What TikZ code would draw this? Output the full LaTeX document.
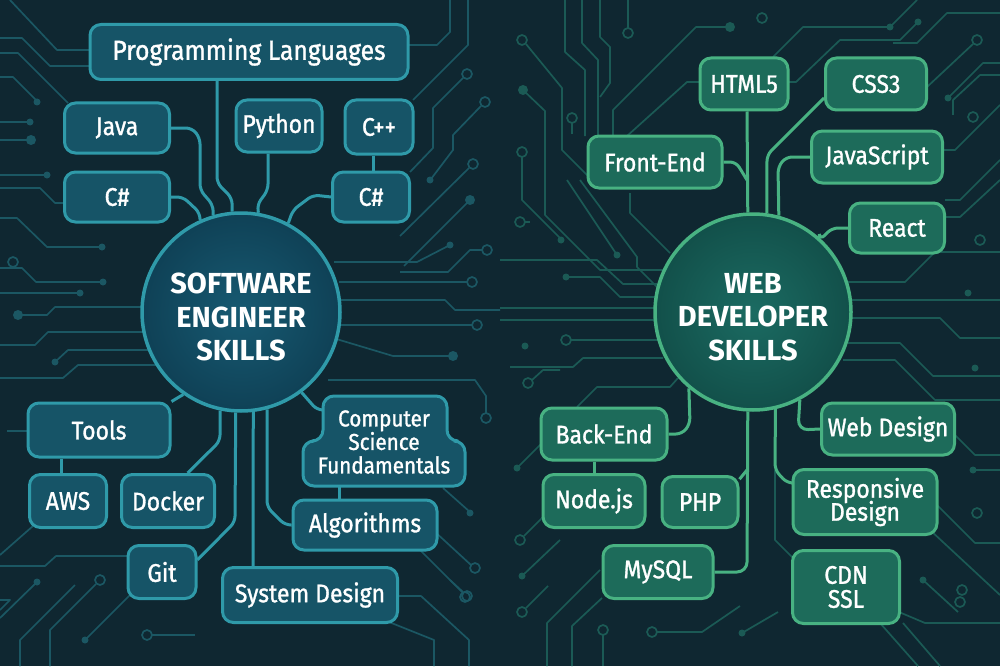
\documentclass[tikz,border=0pt]{standalone}
\usepackage{fontspec}
\setmainfont{Fira Sans}
\newfontfamily\boxfam{Fira Sans}[FakeStretch=0.9, FakeBold=1.2]
\definecolor{bg}{HTML}{0F2731}
\definecolor{ltrc}{HTML}{1B5763}
\definecolor{rtrc}{HTML}{1B5A55}
\definecolor{lborder}{HTML}{2F9AA9}
\definecolor{lfill}{HTML}{165467}
\definecolor{lhubin}{HTML}{175A72}
\definecolor{lhubout}{HTML}{0F4156}
\definecolor{rborder}{HTML}{48B282}
\definecolor{rfill}{HTML}{1D6B5A}
\definecolor{rhubin}{HTML}{1B6B62}
\definecolor{rhubout}{HTML}{12504A}
\newcommand{\boxfont}{\boxfam\fontsize{25.5}{28}\selectfont}
\newcommand{\plfont}{\boxfam\fontsize{27.5}{30}\selectfont}
\newcommand{\csffont}{\boxfam\fontsize{23}{23.5}\selectfont}
\newcommand{\hubfont}{\fontsize{29}{33.5}\selectfont\bfseries}
\pgfdeclarelayer{traces}
\pgfdeclarelayer{links}
\pgfsetlayers{traces,links,main}
\begin{document}
\begin{tikzpicture}[x=1pt,y=-1pt,
  ltr/.style={draw=ltrc, line width=1.7pt, line join=round},
  rtr/.style={draw=rtrc, line width=1.7pt, line join=round},
  lbox/.style={draw=lborder, fill=lfill, line width=3pt, rounded corners=11pt, text=white, font=\boxfont, inner sep=0pt, align=center},
  rbox/.style={draw=rborder, fill=rfill, line width=3pt, rounded corners=11pt, text=white, font=\boxfont, inner sep=0pt, align=center},
  lhub/.style={circle, draw=lborder, inner color=lhubin, outer color=lhubout, line width=3.5pt, minimum size=198pt, inner sep=0pt},
  rhub/.style={circle, draw=rborder, inner color=rhubin, outer color=rhubout, line width=3.5pt, minimum size=196pt, inner sep=0pt},
  hubtext/.style={text=white, font=\hubfont, align=center, inner sep=0pt},
  lwire/.style={draw=lborder, line width=3pt, rounded corners=6pt},
  rwire/.style={draw=rborder, line width=3pt, rounded corners=6pt}]
\useasboundingbox (0,0) rectangle (1000,666);
% ---------------- background circuit traces ----------------
\begin{pgfonlayer}{traces}
\fill[bg] (0,0) rectangle (1000,666);
% left edge
\draw[ltr] (10,0) -- (57,50) -- (90,50);
\draw[ltr] (0,38) -- (22,38) -- (50,66) -- (90,66);
\draw[ltr] (0,53) -- (18,53) -- (68,103);
\draw[ltr] (0,77) -- (13,77) -- (37,101);
\fill[ltrc] (37,102) circle (3.5pt);
\draw[ltr] (0,122) -- (30,122); \fill[ltrc] (30,122) circle (3.5pt);
\draw[ltr] (0,140) -- (30,140); \fill[ltrc] (31,140) circle (5pt);
\draw[ltr] (0,175) -- (47,175); \fill[ltrc] (47,175) circle (3.5pt);
\draw[ltr] (0,188) -- (40,188) -- (55,203) -- (65,203);
\draw[ltr] (0,218) -- (17,218) -- (47,247) -- (101,247); \fill[ltrc] (102,247) circle (3.5pt);
\draw[ltr] (13,262) circle (5pt);
\draw[ltr] (0,268) -- (22,268) -- (36,282) -- (103,282); \fill[ltrc] (103,282) circle (3.5pt);
\draw[ltr] (0,293) -- (80,293); \fill[ltrc] (80,293) circle (3.5pt);
\fill[ltrc] (18,315) circle (5pt);
\draw[ltr] (18,315) -- (47,315) -- (55,307) -- (145,307);
\draw[ltr] (0,345) -- (35,345) -- (48,332) -- (146,332);
\fill[ltrc] (55,362) circle (3.5pt);
\draw[ltr] (55,362) -- (68,350) -- (152,350);
\draw[ltr] (0,378) -- (63,378) -- (78,365) -- (160,365);
\draw[ltr] (7,431) -- (28,431);
\draw[ltr] (0,555) -- (33,526);
\draw[ltr] (0,566) -- (45,566) -- (56,556) -- (128,556);
\fill[ltrc] (37,582) circle (3.5pt); \draw[ltr] (37,582) -- (0,618);
\fill[ltrc] (85,640) circle (3.5pt); \draw[ltr] (85,640) -- (130,595);
\draw[ltr] (100,580) circle (5pt); \draw[ltr] (96,584) -- (50,630) -- (50,666);
\draw[ltr] (20,666) -- (20,640) -- (75,585);
\draw[ltr] (147,635) circle (5pt); \draw[ltr] (152,635) -- (195,635);
\draw[ltr] (0,600) -- (10,600) -- (0,610);
% left middle column
\draw[ltr] (408,45) -- (437,45) -- (450,32) -- (450,0);
\draw[ltr] (413,100) -- (468,45) -- (468,0);
\draw[ltr] (467,74) circle (5pt); \draw[ltr] (463,78) -- (433,108) -- (433,148) -- (410,172);
\draw[ltr] (485,102) circle (5pt); \draw[ltr] (481,106) -- (453,135) -- (453,150) -- (431,179);
\fill[ltrc] (430,180) circle (3.5pt);
\draw[ltr] (473,164) circle (5pt); \draw[ltr] (469,168) -- (400,236);
\fill[ltrc] (470,200) circle (5pt); \draw[ltr] (470,200) -- (404,266);
\fill[ltrc] (450,245) circle (3.5pt); \draw[ltr] (450,245) -- (417,262) -- (334,262);
\draw[ltr] (487,250) circle (5pt); \draw[ltr] (482,250) -- (470,250) -- (448,272) -- (400,272);
\draw[ltr] (472,282) circle (5pt); \draw[ltr] (467,282) -- (339,282);
\draw[ltr] (337,300) -- (445,300) -- (455,310) -- (500,310);
\draw[ltr] (477,325) circle (5pt); \draw[ltr] (472,325) -- (337,325);
\draw[ltr] (333,338) -- (393,356) -- (450,356); \fill[ltrc] (453,356) circle (5pt);
\draw[ltr] (486,418) circle (5pt); \draw[ltr] (486,413) -- (486,396) -- (475,380) -- (328,380);
\draw[ltr] (443,488) -- (470,512); \fill[ltrc] (470,513) circle (3.5pt);
\draw[ltr] (433,530) -- (471,565); \draw[ltr] (475,568) circle (5pt);
\draw[ltr] (420,550) -- (463,593); \draw[ltr] (467,596) circle (5pt);
\draw[ltr] (398,596) -- (421,596) -- (469,640) -- (469,666);
\draw[ltr] (389,622) -- (434,640) -- (434,666);
\draw[ltr] (465,597) circle (5pt); \draw[ltr] (463,592) -- (450,580);
% right edge area
\draw[rtr] (522,40) circle (5pt); \draw[rtr] (526,44) -- (562,88) -- (562,150) -- (588,176);
\fill[rtrc] (523,90) circle (5pt); \draw[rtr] (523,90) -- (545,111) -- (545,215) -- (600,270) -- (664,270);
\draw[rtr] (565,0) -- (565,52) -- (585,70) -- (585,136);
\draw[rtr] (582,0) -- (582,43) -- (598,60) -- (598,136);
\draw[rtr] (600,0) -- (600,37) -- (610,47) -- (610,83) -- (600,97);
\draw[rtr] (628,0) -- (628,28); \draw[rtr] (628,33) circle (5pt);
\draw[rtr] (572,118) circle (5pt); \draw[rtr] (572,123) -- (572,134);
\draw[rtr] (613,136) -- (613,110) -- (696,27) -- (728,27); \fill[rtrc] (730,27) circle (5pt);
\draw[rtr] (627,136) -- (687,82) -- (700,82);
\draw[rtr] (762,18) circle (5pt);
\draw[rtr] (773,57) -- (803,27) -- (890,27) -- (917,0); \fill[rtrc] (890,27) circle (3.5pt);
\draw[rtr] (788,82) -- (796,82) -- (840,40) -- (900,40) -- (918,22); \fill[rtrc] (918,22) circle (3.5pt);
\draw[rtr] (893,43) -- (917,43) -- (947,13) -- (1000,13);
\draw[rtr] (927,87) -- (973,44); \draw[rtr] (977,40) circle (5pt);
\fill[rtrc] (948,98) circle (3.5pt); \draw[rtr] (948,98) -- (983,63) -- (1000,63);
\draw[rtr] (953,115) -- (953,100) -- (980,75) -- (1000,75);
\draw[rtr] (943,150) -- (955,150) -- (1000,105);
\draw[rtr] (973,117) circle (5pt);
\draw[rtr] (522,152) circle (5pt); \draw[rtr] (522,157) -- (522,200) -- (560,238); \fill[rtrc] (561,240) circle (3.5pt);
\draw[rtr] (567,180) -- (617,255); \fill[rtrc] (617,255) circle (3.5pt);
\draw[rtr] (580,180) -- (637,257) -- (637,267) -- (657,287) -- (660,287);
\draw[rtr] (630,193) -- (630,213) -- (670,253);
\draw[rtr] (520,222) circle (5pt); \draw[rtr] (525,222) -- (530,222);
\draw[rtr] (500,260) -- (597,260) -- (623,284) -- (657,284);
\fill[rtrc] (566,277) circle (3.5pt); \draw[rtr] (566,277) -- (600,277) -- (620,297) -- (657,297);
\draw[rtr] (500,308) -- (657,308);
\draw[rtr] (500,320) -- (657,320);
\draw[rtr] (566,340) circle (5pt); \draw[rtr] (571,340) -- (658,340);
\draw[rtr] (510,367) -- (573,367) -- (583,358) -- (663,358);
\draw[rtr] (577,407) -- (597,387) -- (670,387) -- (678,378);
\fill[rtrc] (525,346) circle (3.5pt);
\draw[rtr] (528,383) circle (5pt); \draw[rtr] (532,380) -- (543,370) -- (560,370);
\fill[rtrc] (517,468) circle (3.5pt); \draw[rtr] (517,468) -- (560,425);
\draw[rtr] (520,540) circle (5pt); \draw[rtr] (524,536) -- (545,515);
\fill[rtrc] (522,576) circle (3.5pt); \draw[rtr] (522,576) -- (560,540);
\draw[rtr] (522,612) circle (5pt); \draw[rtr] (526,608) -- (548,586);
\draw[rtr] (547,666) -- (547,623) -- (600,570);
\draw[rtr] (572,666) -- (572,626) -- (602,598);
\draw[rtr] (603,630) circle (5pt); \draw[rtr] (603,635) -- (603,666);
\draw[rtr] (652,632) circle (5pt); \draw[rtr] (657,632) -- (702,632) -- (740,606);
\fill[rtrc] (742,633) circle (3.5pt); \draw[rtr] (742,633) -- (778,612);
\draw[rtr] (775,470) -- (775,540) -- (800,565);
\draw[rtr] (899,612) -- (925,623) -- (1000,623);
\draw[rtr] (880,623) -- (918,666);
\draw[rtr] (903,623) -- (940,666);
\draw[rtr] (960,602) circle (5pt);
% right of right hub
\draw[rtr] (848,282) -- (905,282) -- (935,252) -- (1000,252);
\draw[rtr] (850,300) -- (1000,300);
\fill[rtrc] (968,293) circle (3.5pt);
\draw[rtr] (851,318) -- (940,318) -- (960,338) -- (1000,338);
\draw[rtr] (848,343) -- (900,343) -- (933,376) -- (1000,376);
\draw[rtr] (843,360) -- (895,360) -- (935,400) -- (1000,400);
\draw[rtr] (980,240) circle (5pt);
\draw[rtr] (937,217) -- (960,217) -- (1000,180);
\draw[rtr] (945,200) -- (960,200) -- (1000,160);
\fill[rtrc] (975,368) circle (3.5pt);
\draw[rtr] (955,435) -- (975,455) -- (1000,455);
\fill[rtrc] (973,470) circle (3.5pt); \draw[rtr] (973,470) -- (1000,470);
\draw[rtr] (937,505) -- (975,543) -- (1000,543);
\draw[rtr] (977,513) circle (5pt);
\draw[rtr] (930,530) -- (1000,595);
\fill[rtrc] (923,580) circle (3.5pt); \draw[rtr] (923,580) -- (958,612);
\draw[rtr] (962,590) circle (5pt);
\end{pgfonlayer}
% ---------------- left: software engineer ----------------
\node[lhub] (sw) at (241,312) {};
\node[hubtext] (swt) at (241,317) {SOFTWARE\\ENGINEER\\SKILLS};
\node[lbox, font=\plfont, minimum width=318pt, minimum height=55pt] (pl) at (249,52) {Programming Languages};
\node[lbox, minimum width=105pt, minimum height=50pt] (java) at (117,128) {Java};
\node[lbox, minimum width=86pt, minimum height=52pt] (py) at (279,126) {Python};
\node[lbox, minimum width=68pt, minimum height=54pt] (cpp) at (379,127) {C++};
\node[lbox, minimum width=105pt, minimum height=50pt] (csl) at (117,197) {C\#};
\node[lbox, minimum width=77pt, minimum height=50pt] (csr) at (371,197) {C\#};
\node[lbox, minimum width=142pt, minimum height=54pt] (tools) at (99,430) {Tools};
\node[lbox, minimum width=77pt, minimum height=53pt] (aws) at (68,501) {AWS};
\node[lbox, minimum width=93pt, minimum height=53pt] (docker) at (168,501) {Docker};
\node[lbox, minimum width=68pt, minimum height=53pt] (git) at (162,572) {Git};
\node[lbox, minimum width=144pt, minimum height=50pt] (algo) at (365,525) {Algorithms};
\node[lbox, minimum width=175pt, minimum height=55pt] (sd) at (310,595) {System Design};
\filldraw[draw=lborder, fill=lfill, line width=3pt, rounded corners=11pt]
  (323,396) -- (447,396) -- (447,441) -- (465,441) -- (465,486) -- (303,486) -- (303,441) -- (323,441) -- cycle;
\node[text=white, font=\csffont, align=center, inner sep=0pt] (csf) at (384,442) {Computer\\Science\\Fundamentals};
\coordinate (csfin) at (324,410);
\begin{pgfonlayer}{links}
\draw[lwire] (pl.south -| 217,0) -- (217,183) -- (232,198) -- (sw.95);
\draw[lwire] (java.east) -- (192,128) -- (200,138) -- (200,190) -- (213,205) -- (sw.106);
\draw[lwire] (csl.east) -- (183,197) -- (200,213) -- (sw.114.5);
\draw[lwire] (py.south -| 268,0) -- (268,190) -- (257,205) -- (sw.80.7);
\draw[lwire] (cpp.south -| 373,0) -- (csr.north -| 373,0);
\draw[lwire] (csr.west) -- (313,195) -- (293,210) -- (sw.62);
\draw[lwire] (tools.north east) -- (sw.-125);
\draw[lwire] (tools.south -| 61,0) -- (aws.north -| 61,0);
\draw[lwire] (docker.55) -- (220,441) -- (sw.-102);
\draw[lwire] (git.19) -- (235,522) -- (sw.-93.5);
\draw[lwire] (sd.north -| 253,0) -- (sw.-83);
\draw[lwire] (algo.west) -- (285,525) -- (267,507) -- (sw.-75);
\draw[lwire] (sw.-53) -- (317,410) -- (csfin);
\draw[lwire] (csf.south -| 339,0) -- (algo.north -| 339,0);
\end{pgfonlayer}
% ---------------- right: web developer ----------------
\node[rhub] (wd0) at (753,312) {};
\node[hubtext] (wdt) at (753,317) {WEB\\DEVELOPER\\SKILLS};
\node[rbox, minimum width=88pt, minimum height=52pt] (html) at (744,84) {HTML5};
\node[rbox, minimum width=101pt, minimum height=52pt] (css) at (876,84) {CSS3};
\node[rbox, minimum width=134pt, minimum height=52pt] (fe) at (655,162) {Front-End};
\node[rbox, minimum width=131pt, minimum height=52pt] (js) at (877,157) {JavaScript};
\node[rbox, minimum width=95pt, minimum height=50pt] (react) at (897,228) {React};
\node[rbox, minimum width=126pt, minimum height=52pt] (be) at (604,434) {Back-End};
\node[rbox, minimum width=102pt, minimum height=53pt] (nodejs) at (594,501) {Node.js};
\node[rbox, minimum width=76pt, minimum height=51pt] (php) at (700,502) {PHP};
\node[rbox, minimum width=110pt, minimum height=53pt] (mysql) at (658,572) {MySQL};
\node[rbox, minimum width=133pt, minimum height=52pt] (wdes) at (888,429) {Web Design};
\node[rbox, minimum width=144pt, minimum height=65pt] (rd) at (865,502) {Responsive\\[-5pt]Design};
\node[rbox, minimum width=107pt, minimum height=73pt] (cdn) at (846,587) {CDN\\[-4pt]SSL};
\coordinate (fejoin) at (747,180);
\coordinate (phpjoin) at (747,470);
\begin{pgfonlayer}{links}
\draw[rwire] (html.south -| 747,0) -- (wd0.93.5);
\draw[rwire] (fe.east) -- (736,162) -- (fejoin);
\draw[rwire] (css.195) -- (767,155) -- (wd0.82);
\draw[rwire] (js.west) -- (786,157) -- (778,167) -- (wd0.75);
\draw[rwire] (react.west) -- (832,228) -- (820,240) -- (wd0.48);
\draw[rwire] (be.east) -- (682,434) -- (690,424) -- (wd0.-130);
\draw[rwire] (be.south -| 594,0) -- (nodejs.north -| 594,0);
\draw[rwire, rounded corners=10pt] (wd0.-93.5) -- (747,572) -- (mysql.east);
\draw[rwire] (php.30) -- (phpjoin);
\draw[rwire, rounded corners=10pt] (wd0.-62.7) -- (798,430) -- (wdes.west);
\draw[rwire] (wd0.-77) -- (775,470) -- (787,483) -- (rd.west |- 0,483);
\end{pgfonlayer}
\end{tikzpicture}
\end{document}
